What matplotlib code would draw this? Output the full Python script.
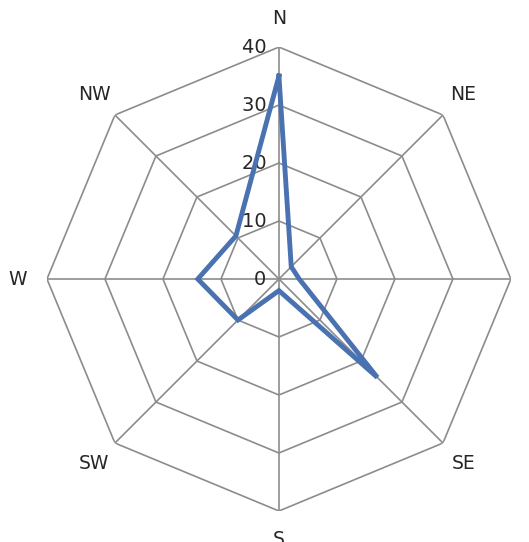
import numpy as np
import matplotlib
matplotlib.use("Agg")
import matplotlib.pyplot as plt

directions = ["N", "NE", "E", "SE", "S", "SW", "W", "NW"]
values = [35, 3, 3.5, 24, 2, 10, 14, 10.5]
rticks = [0, 10, 20, 30, 40]

fig = plt.figure(figsize=(5.29, 5.42), dpi=100)
ax = fig.add_axes([0.0888, 0.0572, 0.877, 0.856], projection="polar")
ax.set_theta_zero_location("N")
ax.set_theta_direction(-1)
ax.set_ylim(0, 40)
ax.axis("off")

n = len(directions)
ang = np.arange(n) * 2 * np.pi / n
angc = np.append(ang, ang[0])
gc = "#8c8c8c"
for r in rticks[1:]:
    ax.plot(angc, [r] * (n + 1), color=gc, lw=1.2, zorder=1)
for a in ang:
    ax.plot([a, a], [0, 40], color=gc, lw=1.2, zorder=1)
for r in rticks:
    ax.text(0, r, str(r) + "  ", ha="right", va="center", fontsize=14, color="#262626")
for a, d in zip(ang, directions):
    ax.text(a, 45, d, ha="center", va="center", fontsize=13.5, color="#262626", clip_on=False)

v = np.append(values, values[0])
ax.plot(angc, v, color="#4a72b0", lw=3.5, zorder=3, solid_joinstyle="miter")

fig.savefig("out.png", dpi=100)
